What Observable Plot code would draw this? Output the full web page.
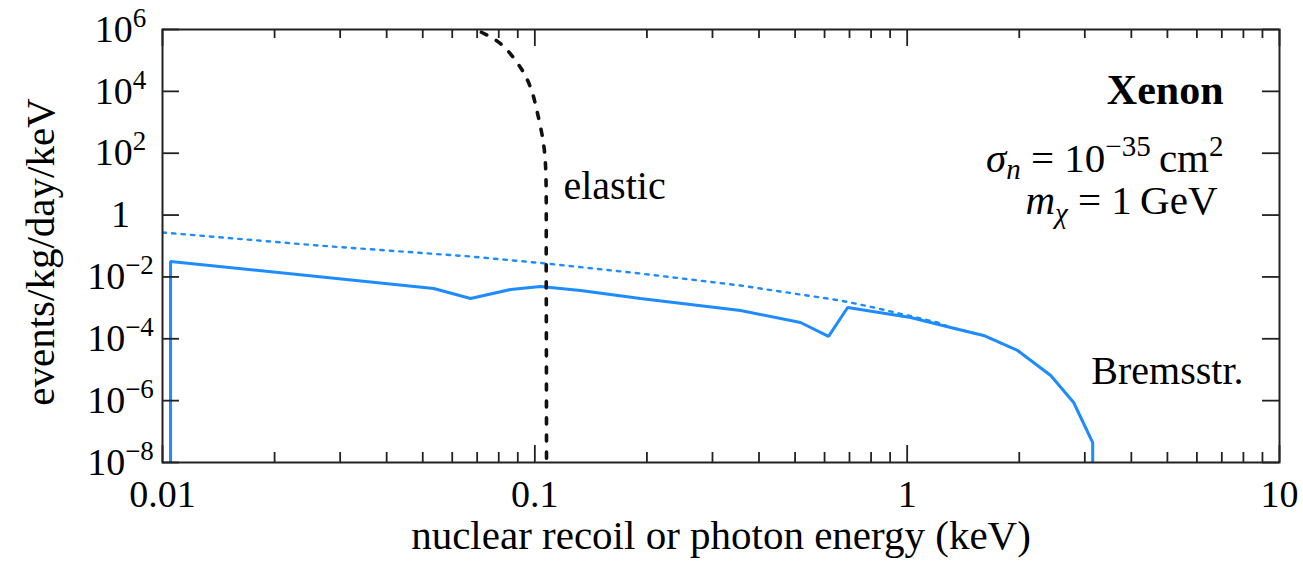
<!DOCTYPE html>
<html><head><meta charset="utf-8">
<script src="https://cdn.jsdelivr.net/npm/d3@7"></script>
<script src="https://cdn.jsdelivr.net/npm/@observablehq/plot@0.6"></script>
<style>
body{margin:0;background:#fff}
svg text{white-space:pre}
</style>
</head><body><div id="chart"></div>
<script>
// ---- data ----
const bremsEnergy = [0.01051, 0.01051, 0.0535, 0.0672, 0.0861, 0.1036, 0.1327, 0.192, 0.357, 0.517, 0.615, 0.692, 1.021, 1.308, 1.604, 1.98, 2.43, 2.80, 3.15, 3.15];
const bremsRate   = [1e-8, 0.0315, 0.00422, 0.0020, 0.00392, 0.0049, 0.00364, 0.0020, 8.2e-4, 3.36e-4, 1.19e-4, 1.03e-3, 4.88e-4, 2.32e-4, 1.28e-4, 4.18e-5, 6.5e-6, 8.7e-7, 4.4e-8, 1e-8];

const freeEnergy = [0.01, 0.0261, 0.0672, 0.107, 0.192, 0.357, 0.662, 0.813, 1.207, 1.308, 1.604, 1.98, 2.43, 2.80, 3.15];
const freeRate   = [0.273, 0.104, 0.0457, 0.0272, 0.0129, 0.00527, 0.00173, 0.00103, 3.36e-4, 2.32e-4, 1.28e-4, 4.18e-5, 6.5e-6, 8.7e-7, 4.4e-8];

const elasticEnergy = [0.060, 0.0697, 0.0809, 0.0915, 0.0974, 0.1017, 0.1055, 0.1069, 0.1073, 0.1075];
const elasticRate   = [3e6, 1e6, 3.5e5, 5.9e4, 1.33e4, 1.92e3, 206, 34, 1e-2, 1e-8];

const xTickValues = [0.01, 0.1, 1, 10];
const xTickLabels = ["0.01", "0.1", "1", "10"];
const yTickValues = [1e-8, 1e-6, 1e-4, 1e-2, 1, 1e2, 1e4, 1e6];
const yTickLabels = ["10^−8", "10^−6", "10^−4", "10^−2", "1", "10^2", "10^4", "10^6"];
const xMinorTicks = [];
for (const dec of [0.01, 0.1, 1]) for (let k = 2; k <= 9; k++) xMinorTicks.push(+(dec * k).toPrecision(3));

const xLabel = "nuclear recoil or photon energy (keV)";
const yLabel = "events/kg/day/keV";

// ---- layout ----
const W = 1303, H = 567, mL = 162, mT = 29, mR = 24, mB = 105;
const plotW = W - mL - mR, plotH = H - mT - mB;
const FONT = "Liberation Serif";
const BLUE = "#1e8cff";
const AX = "#222";

const zip = (xs, ys) => xs.map((x, i) => ({x, y: ys[i]}));

const chart = Plot.plot({
  width: W, height: H,
  marginLeft: mL, marginTop: mT, marginRight: mR, marginBottom: mB,
  x: {type: "log", domain: [0.01, 10], axis: null},
  y: {type: "log", domain: [1e-8, 1e6], axis: null},
  style: {fontFamily: FONT, background: "#fff", color: "#000"},
  marks: [
    Plot.line(zip(freeEnergy, freeRate), {x: "x", y: "y", stroke: BLUE, strokeWidth: 2.4, strokeDasharray: "3.5 6", clip: true}),
    Plot.line(zip(bremsEnergy, bremsRate), {x: "x", y: "y", stroke: BLUE, strokeWidth: 3, strokeLinejoin: "miter", clip: true}),
    Plot.line(zip(elasticEnergy, elasticRate), {x: "x", y: "y", stroke: "#111", strokeWidth: 3.6, strokeDasharray: "6 11", curve: "catmull-rom", clip: true}),
    // ticks (inward)
    Plot.tickX(xTickValues, {x: d => d, insetTop: plotH - 17, stroke: AX, strokeWidth: 1.8}),
    Plot.tickX(xTickValues, {x: d => d, insetBottom: plotH - 17, stroke: AX, strokeWidth: 1.8}),
    Plot.tickX(xMinorTicks, {x: d => d, insetTop: plotH - 10, stroke: AX, strokeWidth: 1.8}),
    Plot.tickX(xMinorTicks, {x: d => d, insetBottom: plotH - 9, stroke: AX, strokeWidth: 1.8}),
    Plot.tickY(yTickValues, {y: d => d, insetRight: plotW - 17, stroke: AX, strokeWidth: 1.8}),
    Plot.tickY(yTickValues, {y: d => d, insetLeft: plotW - 17, stroke: AX, strokeWidth: 1.8}),
    Plot.frame({stroke: AX, strokeWidth: 2}),
    // tick labels
    Plot.text(xTickValues, {x: d => d, text: (d, i) => xTickLabels[i], frameAnchor: "bottom", dy: 44, fontSize: 38, fontFamily: FONT, fill: "#000"}),
    Plot.text(yTickValues, {y: d => d, text: (d, i) => yTickLabels[i], frameAnchor: "left", dx: -42, textAnchor: "middle", fontSize: 38, fontFamily: FONT, fill: "#000"}),
    // axis labels
    Plot.text([xLabel], {text: d => d, frameAnchor: "bottom", dy: 86, fontSize: 41, fontFamily: FONT, fill: "#000"}),
    Plot.text([yLabel], {text: d => d, frameAnchor: "left", textAnchor: "middle", dx: -122, dy: 6, rotate: -90, fontSize: 41, fontFamily: FONT, fill: "#000"}),
    // annotations
    Plot.text(["Xenon"], {text: d => d, frameAnchor: "top-right", textAnchor: "end", dx: -56, dy: 45, fontSize: 42, fontWeight: "bold", fontFamily: FONT, fill: "#000"}),
    Plot.text(["σn = 10−35 cm2"], {text: d => d, frameAnchor: "top-right", textAnchor: "end", dx: -56, dy: 113, fontSize: 41, fontFamily: FONT, fill: "#000"}),
    Plot.text(["mχ = 1 GeV"], {text: d => d, frameAnchor: "top-right", textAnchor: "end", dx: -62, dy: 155, fontSize: 41, fontFamily: FONT, fill: "#000"}),
    Plot.text(["Bremsstr."], {text: d => d, frameAnchor: "top-right", textAnchor: "end", dx: -36, dy: 326, fontSize: 40, fontFamily: FONT, fill: "#000"}),
    Plot.text(["elastic"], {text: d => d, frameAnchor: "top-left", textAnchor: "start", dx: 401, dy: 141, fontSize: 40, fontFamily: FONT, fill: "#000"})
  ]
});

// rich text (superscripts / subscripts / italics) as real tspans
function setRich(el, parts) {
  const t = d3.select(el);
  t.text(null);
  let shift = 0;
  for (const p of parts) {
    const target = p.shift || 0;
    const sp = t.append("tspan").text(p.t);
    if (target !== shift) { sp.attr("dy", target - shift); shift = target; }
    if (p.size) sp.attr("font-size", p.size);
    if (p.italic) sp.attr("font-style", "italic");
  }
}
const root = d3.select(chart);
root.selectAll("text").each(function() {
  const s = this.textContent;
  if (/^10\^/.test(s)) {
    const [base, exp] = s.split("^");
    setRich(this, [{t: base}, {t: exp, size: 27, shift: -15}]);
  } else if (s === "σn = 10−35 cm2") {
    setRich(this, [
      {t: "σ", italic: true},
      {t: "n", italic: true, size: 29, shift: 7},
      {t: " = 10"},
      {t: "−35", size: 29, shift: -16},
      {t: "\u2009cm"},
      {t: "2", size: 29, shift: -16}
    ]);
  } else if (s === "mχ = 1 GeV") {
    setRich(this, [
      {t: "m", italic: true},
      {t: "χ", italic: true, size: 29, shift: 9},
      {t: " = 1\u2009GeV"}
    ]);
  }
});
document.getElementById("chart").append(chart);
</script>
</body></html>
